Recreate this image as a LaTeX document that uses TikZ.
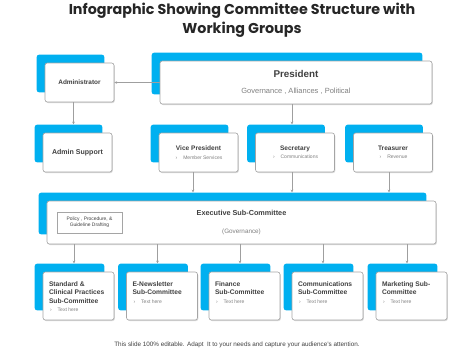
\documentclass[tikz,border=0pt]{standalone}
\usepackage{fontspec}
\setmainfont{Liberation Sans}
\newfontfamily\titlefont{Poppins}
\usetikzlibrary{positioning, fit, backgrounds, shadows, arrows.meta, calc}

\definecolor{skyblue}{RGB}{0,176,240}
\definecolor{cardline}{RGB}{165,165,165}
\definecolor{headtext}{RGB}{64,64,64}
\definecolor{subtext}{RGB}{128,128,128}

% small grey bullet line under a card title
\newcommand{\cardnote}[1]{{\fontsize{4.3}{5.5}\selectfont\mdseries\color{subtext}\hspace*{1pt}›\hspace{5pt}#1}}

\begin{document}
\begin{tikzpicture}[
    x=0.3mm, y=-0.3mm,
    card/.style={rectangle, draw=cardline, line width=0.5pt, fill=white, rounded corners=2pt, align=center, text=headtext,
      drop shadow={opacity=0.3, shadow xshift=0.7pt, shadow yshift=-0.9pt}},
    backcard/.style={rectangle, fill=skyblue, rounded corners=2pt, inner sep=0pt},
    smallcard/.style={card, minimum width=20.7mm, minimum height=11.7mm, font=\fontsize{5.5}{6.6}\selectfont\bfseries},
    rolecard/.style={card, minimum width=23.7mm, minimum height=11.7mm, font=\fontsize{5.6}{6.7}\selectfont\bfseries},
    widecard/.style={card, minimum height=12.9mm},
    subcard/.style={card, minimum width=21.3mm, minimum height=14.4mm, inner sep=0pt, font=\fontsize{5.7}{6.9}\selectfont\bfseries},
    policybox/.style={rectangle, draw=cardline, fill=white, minimum width=19.5mm, minimum height=6.3mm, inner sep=1pt,
      align=center, font=\fontsize{4.2}{5.2}\selectfont, text=headtext},
    conn/.style={-{Stealth[length=2.4pt, width=2.2pt]}, draw=gray!75, line width=0.4pt}
  ]
    \useasboundingbox (0,0) rectangle (474,355);

    % Title
    \node[font=\titlefont\bfseries\fontsize{12.2}{16}\selectfont, text=black!85, align=center] (title) at (242,20)
      {Infographic Showing Committee Structure with\\Working Groups};

    % Top row
    \node[smallcard] (admin) at (79.5,82.5) {Administrator};
    \node[widecard, minimum width=81.6mm] (pres) at (296,82.5) {
      {\fontsize{8.4}{10}\selectfont\bfseries President}\\[2pt]
      {\fontsize{6.4}{7.5}\selectfont\color{subtext}Governance , Alliances , Political}
    };

    % Second row
    \node[smallcard, font=\fontsize{6}{7}\selectfont\bfseries] (adminsup) at (77.5,152.5) {Admin Support};
    \node[rolecard] (vp) at (198.5,152.5) {Vice President\\[0.5pt]\cardnote{Member Services}};
    \node[rolecard] (sec) at (295,152.5) {Secretary\\[0.5pt]\cardnote{Communications}};
    \node[rolecard] (treas) at (393,152.5) {Treasurer\\[0.5pt]\cardnote{Revenue}};

    % Executive sub-committee
    \node[widecard, minimum width=116.7mm] (exec) at (241.5,222.5) {
      {\fontsize{6.2}{7.5}\selectfont\bfseries Executive Sub-Committee}\\[3pt]
      {\fontsize{5.4}{6.5}\selectfont\color{subtext}(Governance)}
    };
    \node[policybox] (policy) at (89.5,222.5) {Policy , Procedure, \&\\Guideline Drafting};

    % Sub-committees
    \node[subcard] (std) at (78.5,296) {\parbox[c][8.4mm][t]{17.7mm}{\raggedright Standard \&\\Clinical Practices\\Sub-Committee\\\cardnote{Text here}}};
    \node[subcard] (enews) at (162,296) {\parbox[c][8.4mm][t]{17.7mm}{\raggedright E-Newsletter\\Sub-Committee\\\cardnote{Text here}}};
    \node[subcard] (fin) at (244.5,296) {\parbox[c][8.4mm][t]{17.7mm}{\raggedright Finance\\Sub-Committee\\\cardnote{Text here}}};
    \node[subcard] (comm) at (327.5,296) {\parbox[c][8.4mm][t]{17.7mm}{\raggedright Communications\\Sub-Committee\\\cardnote{Text here}}};
    \node[subcard] (mkt) at (411.5,296) {\parbox[c][8.4mm][t]{17.7mm}{\raggedright Marketing Sub-\\Committee\\\cardnote{Text here}}};

    % Blue backs behind every card
    \begin{scope}[on background layer]
      \foreach \n in {admin,pres,adminsup,vp,sec,treas,exec,std,enews,fin,comm,mkt}
        \node[backcard, fit={([shift={(-8,-8)}]\n.north west) ([shift={(-10,-10)}]\n.south east)}] (\n-b) {};
    \end{scope}

    % Connectors
    \draw[conn] (pres.west) -- (admin.east);
    \draw[conn] ($(admin.south)+(-6,0)$) -- ($(admin.south |- adminsup-b.north)+(-6,0)$);
    \draw[conn] ($(pres.south)+(-4,0)$) -- ($(pres.south |- sec-b.north)+(-4,0)$);
    \draw[conn] ($(vp.south)+(-5.5,0)$) -- ($(vp.south |- exec-b.north)+(-5.5,0)$);
    \draw[conn] ($(sec.south)+(-3,0)$) -- ($(sec.south |- exec-b.north)+(-3,0)$);
    \draw[conn] ($(treas.south)+(-4,0)$) -- ($(treas.south |- exec-b.north)+(-4,0)$);
    \foreach \n in {std,enews,fin,comm,mkt}
      \draw[conn] ($(\n.north |- exec.south)+(-4.5,0)$) -- ($(\n.north |- \n-b.north)+(-4.5,0)$);

    % Footer
    \node[font=\fontsize{5.4}{6.2}\selectfont, text=headtext] (note) at (237,345)
      {This slide 100\% editable. Adapt\ \ It to your needs and capture your audience's attention.};
  \end{tikzpicture}
\end{document}
